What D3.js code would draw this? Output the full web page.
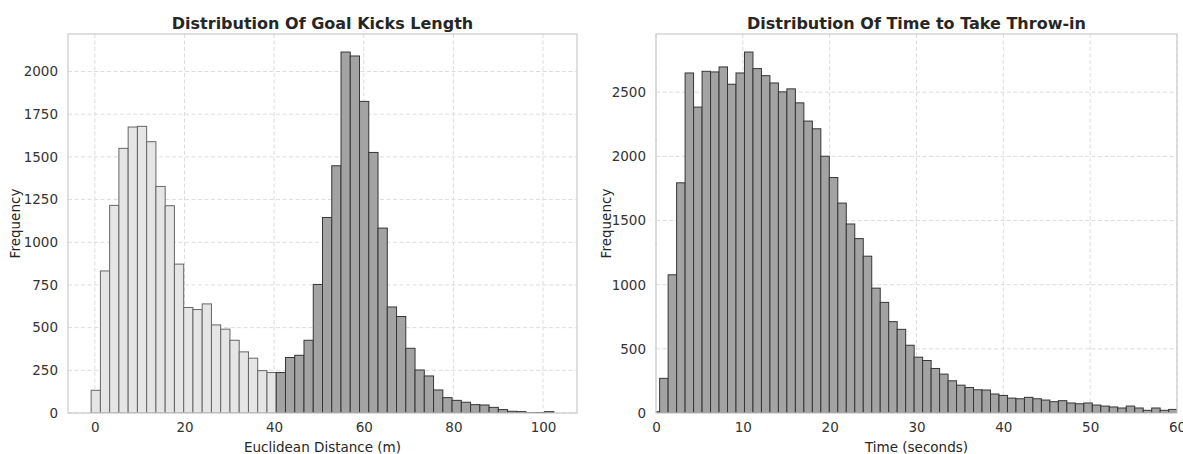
<!DOCTYPE html>
<html>
<head>
<meta charset="utf-8">
<script src="https://cdn.jsdelivr.net/npm/d3@7"></script>
<style>
  html, body { margin: 0; padding: 0; background: #fff; }
  svg { display: block; font-family: "DejaVu Sans", sans-serif; }
</style>
</head>
<body>
<svg id="chart" width="1183" height="454"></svg>
<script>
// ---------- DATA ----------
// Goal kicks: histogram of Euclidean distance (m)
const goalBinStart = -0.83;
const goalBinWidth = 2.065;
const goalSplit = 40; // bins starting below this are the "short" (light) group
const goalCounts = [
  133, 832, 1216, 1550, 1675, 1679, 1589, 1327, 1214, 872,
  618, 606, 639, 516, 491, 426, 358, 321, 248, 237,
  237, 325, 338, 426, 753, 1145, 1448, 2114, 2091, 1825,
  1526, 1083, 621, 565, 379, 252, 217, 135, 90, 74,
  63, 49, 47, 33, 20, 10, 8, 2, 3, 8
];
const goalXTicks = [0, 20, 40, 60, 80, 100];
const goalYTicks = [0, 250, 500, 750, 1000, 1250, 1500, 1750, 2000];

// Throw-ins: histogram of time to take (seconds)
const throwBinStart = -0.557;
const throwBinWidth = 0.977;
const throwCounts = [
  10, 270, 1077, 1794, 2650, 2384, 2663, 2658, 2697, 2562,
  2650, 2813, 2684, 2629, 2572, 2503, 2526, 2417, 2275, 2215,
  2001, 1835, 1636, 1473, 1359, 1222, 973, 862, 712, 652,
  528, 435, 409, 347, 303, 251, 217, 199, 181, 179,
  148, 137, 116, 111, 122, 111, 101, 88, 96, 78,
  72, 78, 62, 54, 47, 39, 54, 39, 21, 39,
  21, 28
];
const throwXTicks = [0, 10, 20, 30, 40, 50, 60];
const throwYTicks = [0, 500, 1000, 1500, 2000, 2500];

// ---------- DRAW ----------
const svg = d3.select("#chart");
const FONT = "DejaVu Sans, sans-serif";

function panel(cfg) {
  const g = svg.append("g");
  const x = d3.scaleLinear().domain(cfg.xDomain).range([cfg.left, cfg.right]);
  const y = d3.scaleLinear().domain(cfg.yDomain).range([cfg.bottom, cfg.top]);

  const clipId = "clip-" + cfg.id;
  svg.append("defs").append("clipPath").attr("id", clipId)
    .append("rect")
    .attr("x", cfg.left).attr("y", cfg.top)
    .attr("width", cfg.right - cfg.left).attr("height", cfg.bottom - cfg.top);

  // grid
  const grid = g.append("g");
  grid.selectAll("line.gx").data(cfg.xTicks).join("line")
    .attr("x1", d => x(d)).attr("x2", d => x(d))
    .attr("y1", cfg.top).attr("y2", cfg.bottom)
    .attr("stroke", "#dcdcdc").attr("stroke-width", 1).attr("stroke-dasharray", "4,2.5");
  grid.selectAll("line.gy").data(cfg.yTicks).join("line")
    .attr("x1", cfg.left).attr("x2", cfg.right)
    .attr("y1", d => y(d)).attr("y2", d => y(d))
    .attr("stroke", "#dcdcdc").attr("stroke-width", 1).attr("stroke-dasharray", "4,2.5");

  // bars
  const bins = cfg.counts.map((c, i) => ({
    x0: cfg.binStart + i * cfg.binWidth,
    x1: cfg.binStart + (i + 1) * cfg.binWidth,
    c: c
  }));
  g.append("g").attr("clip-path", `url(#${clipId})`)
    .selectAll("rect").data(bins).join("rect")
    .attr("x", d => x(d.x0))
    .attr("width", d => x(d.x1) - x(d.x0))
    .attr("y", d => y(d.c))
    .attr("height", d => y(0) - y(d.c))
    .attr("fill", d => cfg.fill(d))
    .attr("stroke", d => cfg.stroke(d))
    .attr("stroke-width", 1);

  // frame
  g.append("rect")
    .attr("x", cfg.left).attr("y", cfg.top)
    .attr("width", cfg.right - cfg.left).attr("height", cfg.bottom - cfg.top)
    .attr("fill", "none").attr("stroke", "#cccccc").attr("stroke-width", 1.25);

  // axes (tick labels only, seaborn whitegrid style)
  const xAxis = g.append("g").attr("transform", `translate(0,${cfg.bottom})`)
    .call(d3.axisBottom(x).tickValues(cfg.xTicks).tickSize(0).tickPadding(9).tickFormat(d3.format("d")));
  const yAxis = g.append("g").attr("transform", `translate(${cfg.left},0)`)
    .call(d3.axisLeft(y).tickValues(cfg.yTicks).tickSize(0).tickPadding(10).tickFormat(d3.format("d")));
  [xAxis, yAxis].forEach(a => {
    a.select(".domain").remove();
    a.selectAll("text").attr("font-size", 13.5).attr("fill", "#333")
      .attr("font-family", FONT);
  });

  // titles / labels
  g.append("text")
    .attr("x", (cfg.left + cfg.right) / 2).attr("y", 29)
    .attr("text-anchor", "middle").attr("font-size", 16).attr("font-weight", "bold")
    .attr("font-family", FONT).attr("fill", "#262626").text(cfg.title);
  g.append("text")
    .attr("x", (cfg.left + cfg.right) / 2).attr("y", 452)
    .attr("text-anchor", "middle").attr("font-size", 13.5).attr("fill", "#262626")
    .attr("font-family", FONT).text(cfg.xLabel);
  g.append("text")
    .attr("transform", `translate(${cfg.yLabelX},${(cfg.top + cfg.bottom) / 2}) rotate(-90)`)
    .attr("text-anchor", "middle").attr("font-size", 13.5).attr("fill", "#262626")
    .attr("font-family", FONT).text("Frequency");
}

const goalMax = goalBinStart + goalCounts.length * goalBinWidth;
const goalPad = (goalMax - goalBinStart) * 0.05;
panel({
  id: "goal",
  left: 68, right: 577, top: 34, bottom: 413,
  xDomain: [goalBinStart - goalPad, goalMax + goalPad],
  yDomain: [0, d3.max(goalCounts) * 1.05],
  xTicks: goalXTicks, yTicks: goalYTicks,
  counts: goalCounts, binStart: goalBinStart, binWidth: goalBinWidth,
  fill: d => d.x0 < goalSplit ? "#e5e5e5" : "#a3a3a3",
  stroke: d => d.x0 < goalSplit ? "#666666" : "#363636",
  title: "Distribution Of Goal Kicks Length",
  xLabel: "Euclidean Distance (m)",
  yLabelX: 20
});

panel({
  id: "throw",
  left: 656, right: 1177, top: 34, bottom: 413,
  xDomain: [0, 60],
  yDomain: [0, d3.max(throwCounts) * 1.05],
  xTicks: throwXTicks, yTicks: throwYTicks,
  counts: throwCounts, binStart: throwBinStart, binWidth: throwBinWidth,
  fill: () => "#a3a3a3",
  stroke: () => "#363636",
  title: "Distribution Of Time to Take Throw-in",
  xLabel: "Time (seconds)",
  yLabelX: 611
});
</script>
</body>
</html>
